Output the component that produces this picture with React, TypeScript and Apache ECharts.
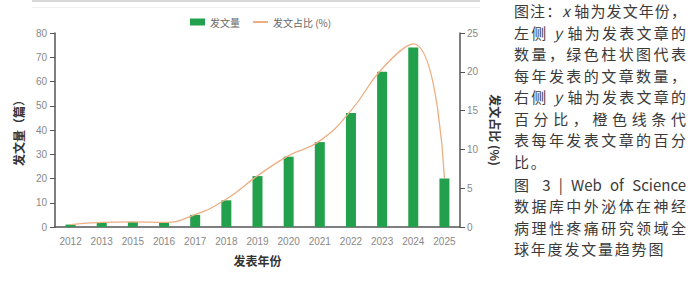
import React, { useEffect, useRef } from "react";
import * as echarts from "echarts";

const years = ["2012", "2013", "2015", "2016", "2017", "2018", "2019", "2020", "2021", "2022", "2023", "2024", "2025"];
const counts = [1, 2, 2, 2, 5, 11, 21, 29, 35, 47, 64, 74, 20];
const shares = [0.3, 0.6, 0.65, 0.6, 1.6, 3.6, 6.6, 9.2, 11.1, 15.0, 20.4, 23.6, 6.3];

const seriesNames = ["发文量", "发文占比 (%)"];
const axisNames = { x: "发表年份", left: "发文量（篇）", right: "发文占比 (%)" };

const noteLines: { t: React.ReactNode; full: boolean }[] = [
  { t: <>图注：<i>x</i> 轴为发文年份，</>, full: true },
  { t: <>左侧 <i>y</i> 轴为发表文章的</>, full: true },
  { t: <>数量，绿色柱状图代表</>, full: true },
  { t: <>每年发表的文章数量，</>, full: true },
  { t: <>右侧 <i>y</i> 轴为发表文章的</>, full: true },
  { t: <>百分比，橙色线条代</>, full: true },
  { t: <>表每年发表文章的百分</>, full: true },
  { t: <>比。</>, full: false },
];
const titleLines: { t: React.ReactNode; full: boolean }[] = [
  { t: <>图 3 | Web of Science</>, full: true },
  { t: <>数据库中外泌体在神经</>, full: true },
  { t: <>病理性疼痛研究领域全</>, full: true },
  { t: <>球年度发文量趋势图</>, full: false },
];

export default function App() {
  const ref = useRef<HTMLDivElement>(null);
  useEffect(() => {
    if (!ref.current) return;
    const chart = echarts.init(ref.current, undefined, { renderer: "svg" });
    const axisLine = { show: true, lineStyle: { color: "#555", width: 1.5 } };
    chart.setOption({
      animation: false,
      textStyle: { fontFamily: "'Liberation Sans', 'Noto Sans CJK SC', sans-serif" },
      graphic: [
        { type: "line", shape: { x1: 32, y1: 1, x2: 480, y2: 1 }, style: { stroke: "#d8d8d8", lineWidth: 2 } },
        { type: "line", shape: { x1: 32, y1: 7.5, x2: 480, y2: 7.5 }, style: { stroke: "#f2f2f2", lineWidth: 1 } },
      ],
      legend: {
        left: 185,
        top: 12,
        itemWidth: 15,
        itemHeight: 7,
        itemGap: 12,
        textStyle: { fontSize: 10, color: "#666", fontFamily: "'Noto Sans CJK SC', sans-serif" },
        data: [
          { name: seriesNames[0], icon: "rect" },
          { name: seriesNames[1], itemStyle: { opacity: 0 } },
        ],
      },
      grid: { left: 55, right: 240, top: 33, bottom: 55 },
      xAxis: {
        type: "category",
        data: years,
        name: axisNames.x,
        nameLocation: "middle",
        nameGap: 27,
        nameTextStyle: { fontSize: 12, fontWeight: "bold", color: "#333", fontFamily: "'Noto Sans CJK SC', sans-serif" },
        axisLine,
        axisTick: { show: false },
        axisLabel: { color: "#888", fontSize: 10, margin: 9 },
      },
      yAxis: [
        {
          type: "value",
          min: 0,
          max: 80,
          interval: 10,
          name: axisNames.left,
          nameLocation: "middle",
          nameGap: 31,
          nameTextStyle: { fontSize: 12, fontWeight: "bold", color: "#333", fontFamily: "'Noto Sans CJK SC', sans-serif" },
          axisLine,
          axisTick: { show: true, length: 5, lineStyle: { color: "#555" } },
          axisLabel: { color: "#888", fontSize: 10, margin: 8 },
          splitLine: { show: false },
        },
        {
          type: "value",
          min: 0,
          max: 25,
          interval: 5,
          position: "right",
          name: axisNames.right,
          nameLocation: "middle",
          nameRotate: -90,
          nameGap: 26,
          nameTextStyle: { fontSize: 12, fontWeight: "bold", color: "#333", fontFamily: "'Noto Sans CJK SC', sans-serif" },
          axisLine,
          axisTick: { show: true, length: 5, lineStyle: { color: "#555" } },
          axisLabel: { color: "#888", fontSize: 10, margin: 7 },
          splitLine: { show: false },
        },
      ],
      series: [
        {
          name: seriesNames[0],
          type: "bar",
          data: counts,
          barWidth: 10,
          itemStyle: { color: "#22A04B" },
          yAxisIndex: 0,
        },
        {
          name: seriesNames[1],
          type: "line",
          data: shares,
          yAxisIndex: 1,
          smooth: 0.5,
          symbol: "none",
          lineStyle: { color: "#EDAE82", width: 1.3 },
          itemStyle: { color: "#EDAE82" },
        },
      ],
    });
    return () => chart.dispose();
  }, []);

  const lineH = 21.5;
  const lineStyle = (top: number, full: boolean): React.CSSProperties => ({
    position: "absolute",
    left: 514,
    top,
    width: 172,
    height: lineH,
    lineHeight: `${lineH}px`,
    fontSize: 15,
    letterSpacing: full ? 0 : 1.8,
    color: "#3a3a3a",
    fontFamily: "'Noto Sans CJK SC', sans-serif",
    whiteSpace: "nowrap",
    textAlign: full ? "justify" : "left",
    textAlignLast: full ? "justify" : "left",
  });

  return (
    <div style={{ position: "fixed", left: 0, top: 0, width: 700, height: 282, background: "#fff" }}>
      <div ref={ref} style={{ position: "absolute", left: 0, top: 0, width: 700, height: 282 }} />
      {noteLines.map((l, i) => (
        <div key={"n" + i} style={lineStyle(0 + i * lineH, l.full)}>{l.t}</div>
      ))}
      {titleLines.map((l, i) => (
        <div key={"t" + i} style={lineStyle(173.5 + i * lineH, l.full)}>{l.t}</div>
      ))}
    </div>
  );
}
